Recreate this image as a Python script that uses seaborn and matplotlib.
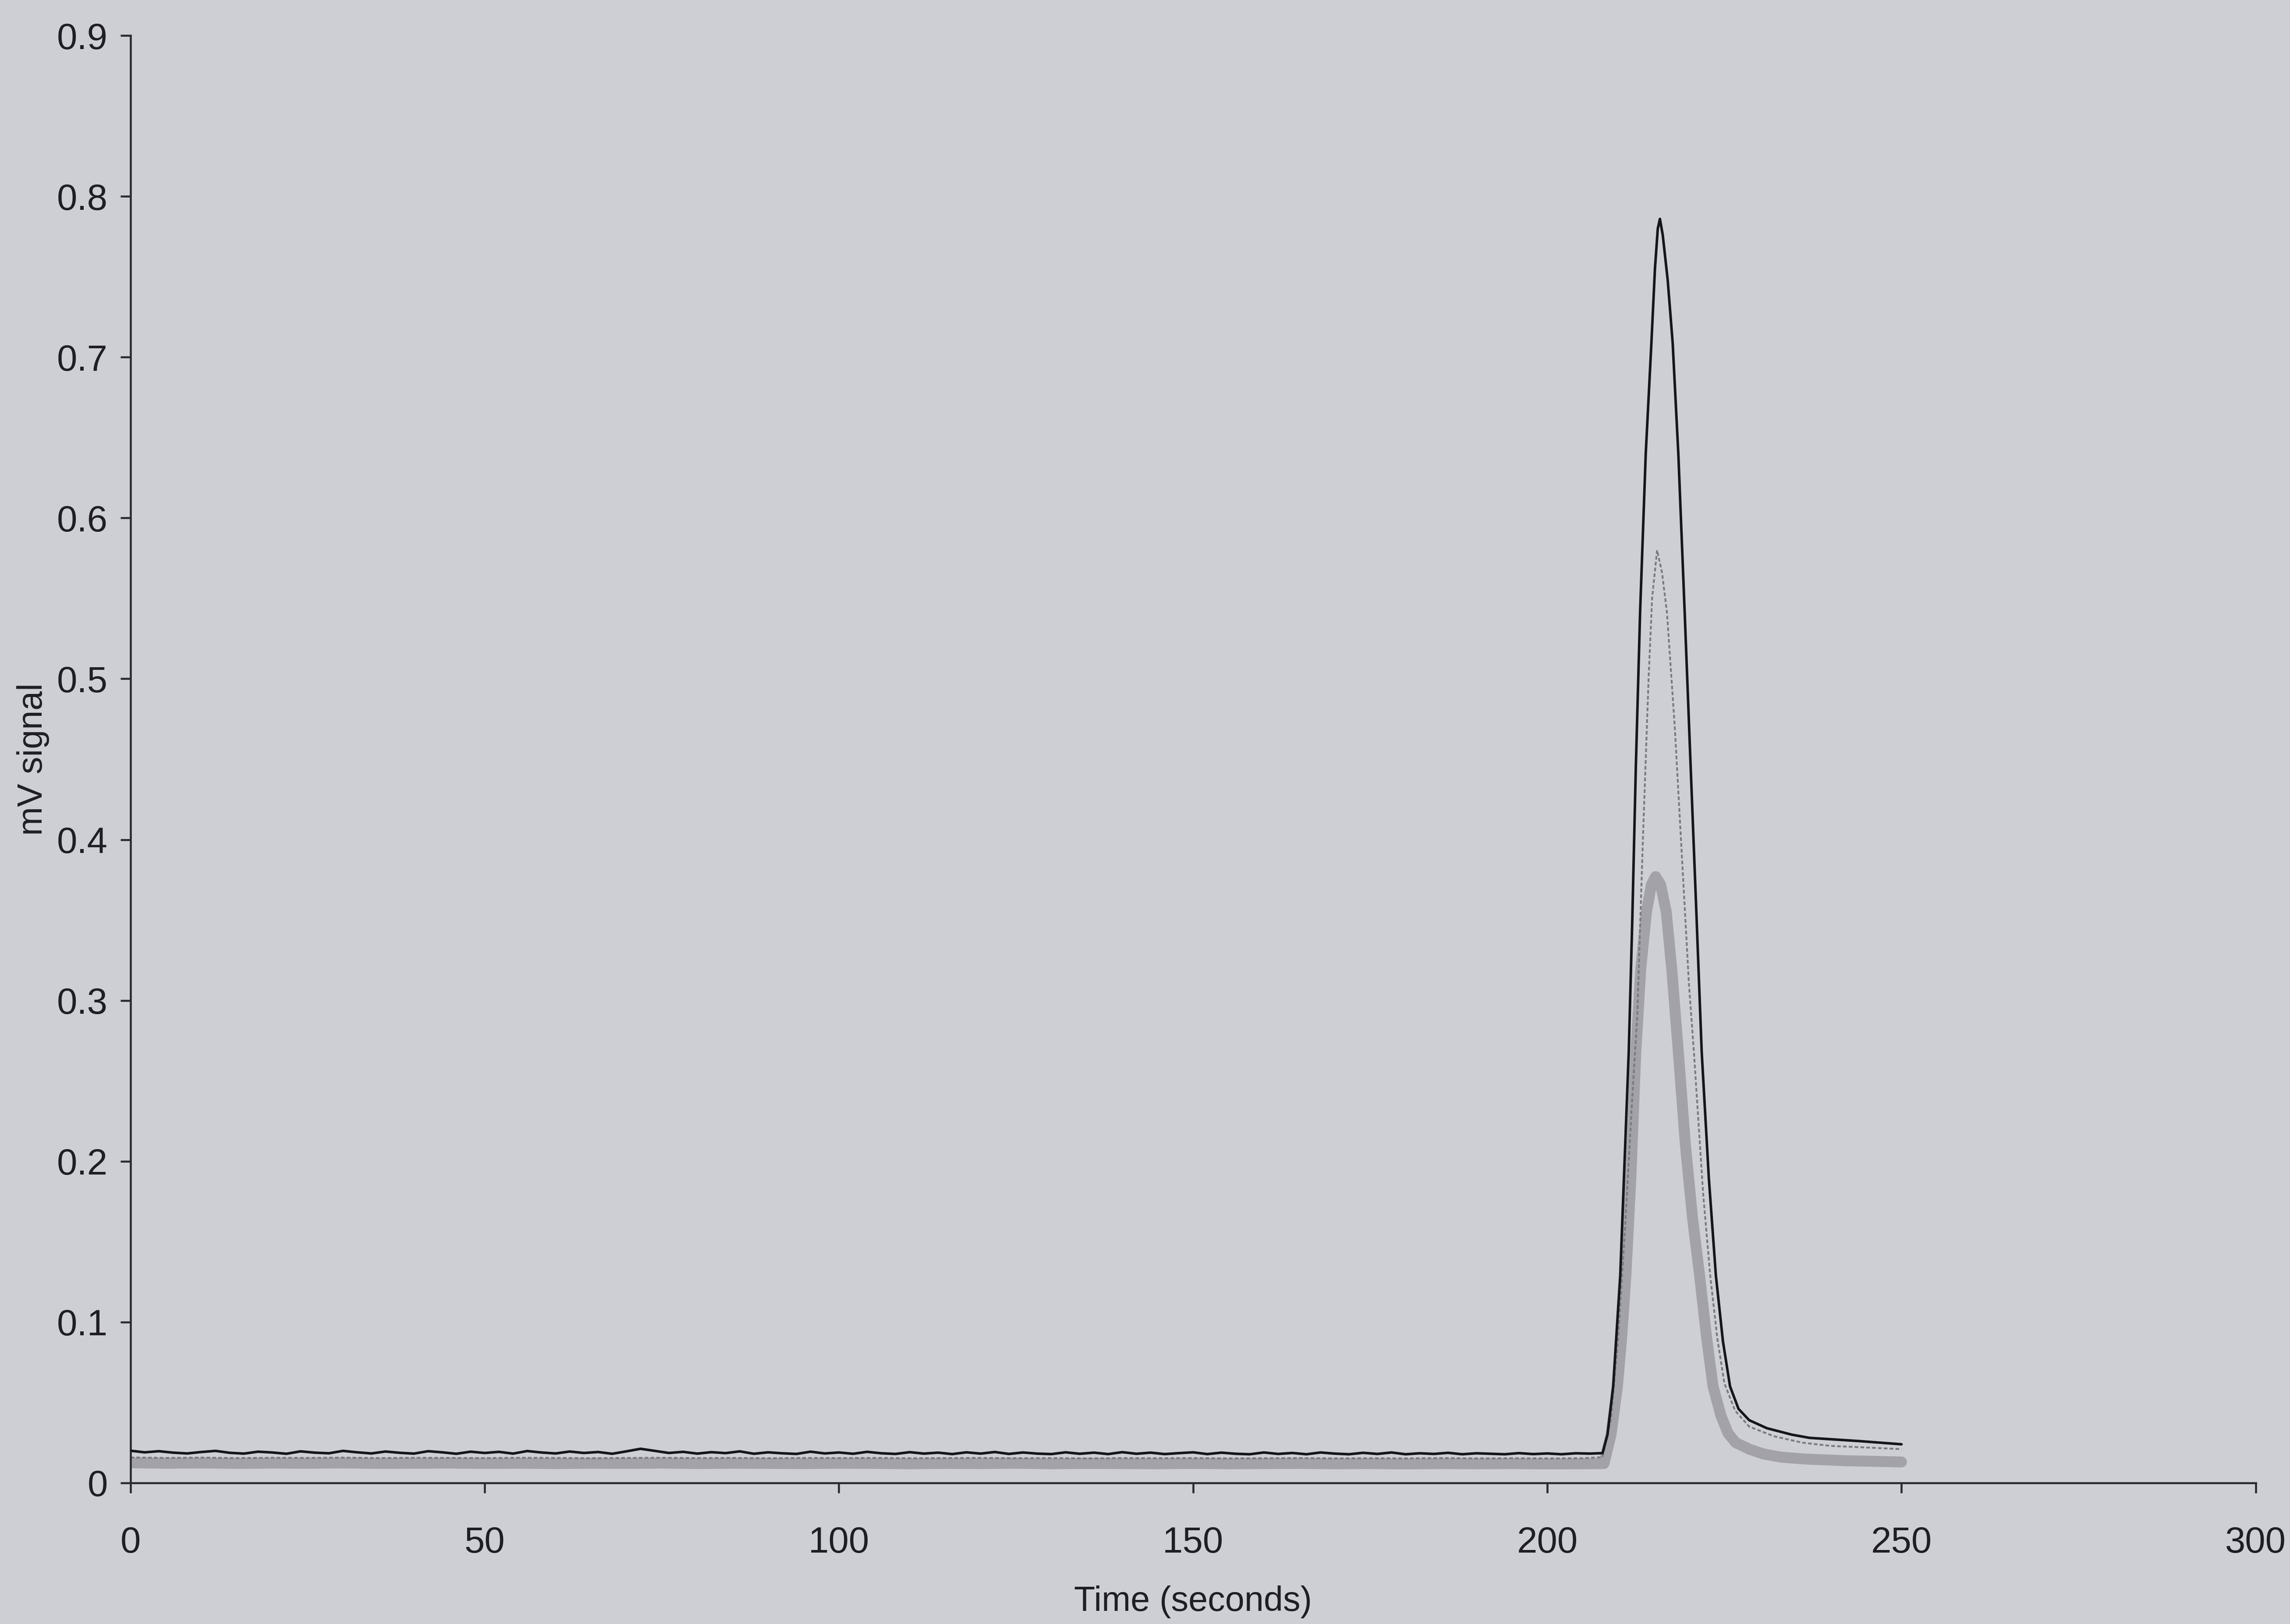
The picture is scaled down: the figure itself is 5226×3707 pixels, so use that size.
import numpy as np
import pandas as pd
import matplotlib
matplotlib.use("Agg")
import matplotlib.pyplot as plt
import seaborn as sns

# ---------------- data ----------------
# black solid trace: baseline sampled every 2 s (0..206 s)
black_base_t = np.arange(0, 208, 2)
black_base_v = [0.020, 0.019, 0.0197, 0.0188, 0.0183, 0.0192, 0.0199, 0.0187, 0.0182, 0.0194,
                0.0189, 0.0181, 0.0196, 0.0188, 0.0184, 0.0199, 0.019, 0.0183, 0.0195, 0.0187,
                0.0182, 0.0197, 0.019, 0.0181, 0.0194, 0.0186, 0.0193, 0.0182, 0.0198, 0.0189,
                0.0183, 0.0195, 0.0186, 0.0192, 0.0181, 0.0196, 0.0212, 0.0199, 0.0186, 0.0193,
                0.0182, 0.0191, 0.0185, 0.0196, 0.0181, 0.0190, 0.0184, 0.0180, 0.0194, 0.0183,
                0.0189, 0.0181, 0.0193, 0.0184, 0.0180, 0.0191, 0.0182, 0.0188, 0.0179, 0.0190,
                0.0182, 0.0192, 0.0180, 0.0189, 0.0182, 0.0179, 0.0190, 0.0181, 0.0188, 0.0179,
                0.0191, 0.0181, 0.0188, 0.0179, 0.0185, 0.0190, 0.0179, 0.0188, 0.0181, 0.0178,
                0.0189, 0.0180, 0.0186, 0.0178, 0.0189, 0.0182, 0.0178, 0.0187, 0.0180, 0.0189,
                0.0178, 0.0184, 0.0180, 0.0187, 0.0178, 0.0184, 0.0181, 0.0178, 0.0185, 0.0179,
                0.0183, 0.0178, 0.0184, 0.0182]
black_peak_t = [207.8, 208.5, 209.3, 210.3, 211.5, 212.0, 212.5, 213.1, 213.9, 214.7, 215.2,
                215.6, 215.9, 216.3, 217.0, 217.7, 218.5, 219.4, 220.2, 221.0, 221.8, 222.8,
                223.8, 224.8, 225.8, 227.0, 228.5, 231.0, 234.5, 237.0, 240.5, 244.0, 247.0,
                250.0]
black_peak_v = [0.0185, 0.030, 0.060, 0.129, 0.268, 0.350, 0.445, 0.541, 0.640, 0.709, 0.755,
                0.780, 0.786, 0.776, 0.748, 0.709, 0.640, 0.541, 0.450, 0.360, 0.268, 0.190,
                0.129, 0.088, 0.060, 0.046, 0.039, 0.034, 0.030, 0.028, 0.027, 0.026, 0.025,
                0.024]

# grey dotted trace: baseline every 5 s (0..205 s)
dot_base_t = np.arange(0, 210, 5)
dot_base_v = [0.0158, 0.0155, 0.0157, 0.0154, 0.0156, 0.0155, 0.0157, 0.0154, 0.0156, 0.0155,
              0.0154, 0.0156, 0.0155, 0.0153, 0.0155, 0.0156, 0.0154, 0.0155, 0.0153, 0.0155,
              0.0154, 0.0155, 0.0153, 0.0154, 0.0155, 0.0153, 0.0154, 0.0152, 0.0154, 0.0153,
              0.0154, 0.0152, 0.0153, 0.0154, 0.0152, 0.0153, 0.0152, 0.0154, 0.0152, 0.0153,
              0.0152, 0.0153]
dot_peak_t = [207.8, 209.0, 210.0, 211.0, 212.0, 212.7, 213.5, 214.3, 214.8, 215.5, 216.2,
              216.9, 218.0, 219.0, 220.0, 220.7, 222.0, 223.0, 224.0, 225.0, 226.5, 228.5,
              232.0, 236.0, 240.0, 245.0, 250.0]
dot_peak_v = [0.016, 0.040, 0.090, 0.160, 0.240, 0.290, 0.400, 0.500, 0.550, 0.580, 0.566,
              0.541, 0.470, 0.390, 0.310, 0.268, 0.180, 0.129, 0.090, 0.062, 0.045, 0.035,
              0.029, 0.025, 0.023, 0.022, 0.021]

# light grey thick trace: baseline every 5 s (0..205 s)
grey_base_t = np.arange(0, 210, 5)
grey_base_v = [0.0125, 0.0122, 0.0124, 0.0121, 0.0123, 0.0122, 0.0124, 0.0121, 0.0122, 0.0123,
               0.0121, 0.0122, 0.0120, 0.0122, 0.0121, 0.0123, 0.0120, 0.0122, 0.0121, 0.0120,
               0.0122, 0.0121, 0.0119, 0.0121, 0.0120, 0.0122, 0.0119, 0.0121, 0.0120, 0.0119,
               0.0121, 0.0119, 0.0120, 0.0121, 0.0119, 0.0120, 0.0118, 0.0120, 0.0119, 0.0120,
               0.0118, 0.0119]
grey_peak_t = [208.0, 209.0, 209.9, 210.5, 211.1, 211.8, 212.5, 213.2, 214.0, 214.7, 215.3,
               216.0, 216.8, 217.6, 218.5, 219.5, 220.5, 221.5, 222.5, 223.4, 224.5, 225.5,
               226.6, 228.5, 230.5, 233.0, 236.5, 242.0, 250.0]
grey_peak_v = [0.012, 0.030, 0.060, 0.090, 0.129, 0.190, 0.268, 0.320, 0.355, 0.372, 0.377,
               0.372, 0.355, 0.318, 0.268, 0.210, 0.165, 0.129, 0.090, 0.060, 0.042, 0.031,
               0.025, 0.021, 0.018, 0.016, 0.0148, 0.0138, 0.013]

x_ticks = [0, 50, 100, 150, 200, 250, 300]
y_ticks = [0, 0.1, 0.2, 0.3, 0.4, 0.5, 0.6, 0.7, 0.8, 0.9]
y_tick_labels = ["0", "0.1", "0.2", "0.3", "0.4", "0.5", "0.6", "0.7", "0.8", "0.9"]

# ---------------- build frames ----------------
black = pd.DataFrame({"t": list(black_base_t) + black_peak_t,
                      "v": list(black_base_v) + black_peak_v})
dotted = pd.DataFrame({"t": list(dot_base_t) + dot_peak_t,
                       "v": list(dot_base_v) + dot_peak_v})
grey = pd.DataFrame({"t": list(grey_base_t) + grey_peak_t,
                     "v": list(grey_base_v) + grey_peak_v})

# ---------------- style ----------------
sns.set_theme(style="ticks")
plt.rcParams["font.family"] = ["Liberation Sans", "DejaVu Sans"]
bg = "#cecfd5"
ink = "#1e1e24"

fig = plt.figure(figsize=(5226 / 300, 3707 / 300), dpi=300, facecolor=bg)
ax = fig.add_axes([0.057, 0.0869, 0.928, 0.8912])
ax.set_facecolor(bg)

sns.lineplot(data=grey, x="t", y="v", ax=ax, color="#a2a2a8", linewidth=6.0,
             estimator=None, sort=False, zorder=1)
sns.lineplot(data=dotted, x="t", y="v", ax=ax, color="#7a7a82", linewidth=1.0,
             linestyle=(0, (2.0, 1.2)), estimator=None, sort=False, zorder=2)
sns.lineplot(data=black, x="t", y="v", ax=ax, color="#15151c", linewidth=1.4,
             estimator=None, sort=False, zorder=3)

ax.set_xlim(0, 300)
ax.set_ylim(0, 0.9)
ax.set_xticks(x_ticks)
ax.set_xticklabels([str(v) for v in x_ticks])
ax.set_yticks(y_ticks)
ax.set_yticklabels(y_tick_labels)

for s in ["top", "right"]:
    ax.spines[s].set_visible(False)
for s in ["left", "bottom"]:
    ax.spines[s].set_color("#2a2a30")
    ax.spines[s].set_linewidth(1.1)

ax.tick_params(axis="both", colors="#2a2a30", labelcolor=ink, labelsize=20,
               length=5.5, width=1.1, direction="out")
ax.tick_params(axis="x", pad=18)
ax.tick_params(axis="y", pad=7)

ax.set_xlabel("Time (seconds)", fontsize=19, color=ink, labelpad=14)
ax.set_ylabel("mV signal", fontsize=19, color=ink, labelpad=4)

fig.savefig("out.png", dpi=300, facecolor=bg)
